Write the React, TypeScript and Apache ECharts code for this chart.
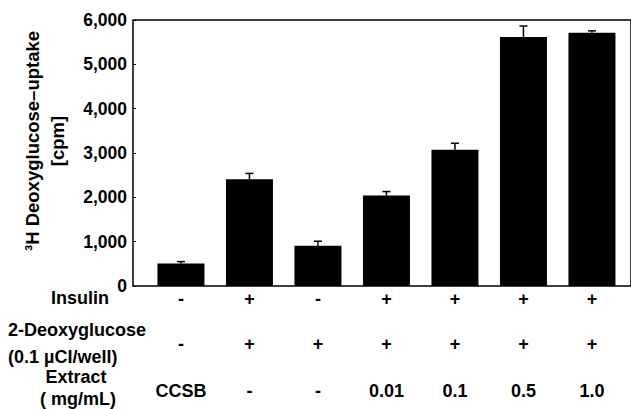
import React, { useEffect, useRef } from "react";
import * as echarts from "echarts";

// Data
const insulin = ["-", "+", "-", "+", "+", "+", "+"];
const deoxyglucose = ["-", "+", "+", "+", "+", "+", "+"];
const extract = ["CCSB", "-", "-", "0.01", "0.1", "0.5", "1.0"];
const uptake = [510, 2410, 910, 2040, 3075, 5615, 5715];
const uptakeErr = [40, 130, 100, 90, 145, 250, 40];
const rowLabelLines = ["Insulin", "2-Deoxyglucose", "(0.1 \u00b5CI/well)", "Extract", "( mg/mL)"];
const yTitle = "\u00b3H Deoxyglucose\u2013uptake\n[cpm]";

const FONT = "'Liberation Sans', Arial, sans-serif";

// placement of the row-label lines (layout only)
const rowLabelPos = [
  { x: 80, y: 298, align: "center" },
  { x: 8, y: 330, align: "left" },
  { x: 8, y: 357, align: "left" },
  { x: 76, y: 377, align: "center" },
  { x: 78, y: 399, align: "center" },
];

export default function App() {
  const ref = useRef<HTMLDivElement>(null);
  useEffect(() => {
    if (!ref.current) return;
    const chart = echarts.init(ref.current, null, { renderer: "svg" });
    const idx = uptake.map((_, i) => i);
    const textBase = { fontFamily: FONT, fontWeight: "bold", fontSize: 18, fill: "#000" };
    const richBase = { fontSize: 18, fontWeight: "bold", fontFamily: FONT, color: "#000" };
    chart.setOption({
      animation: false,
      backgroundColor: "#fff",
      grid: {
        left: 133,
        top: 20,
        right: -3,
        bottom: 123,
        show: true,
        borderColor: "#000",
        borderWidth: 1.5,
        backgroundColor: "transparent",
      },
      xAxis: {
        type: "value",
        min: -0.7,
        max: 6.57,
        axisLine: { show: false, onZero: false },
        axisTick: { show: false },
        splitLine: { show: false },
        axisLabel: {
          customValues: idx,
          margin: 0,
          formatter: (v: number) => {
            const i = Math.round(v);
            return `{a|${insulin[i]}}\n{b|${deoxyglucose[i]}}\n{c|${extract[i]}}`;
          },
          rich: {
            a: { ...richBase, lineHeight: 26 },
            b: { ...richBase, lineHeight: 64 },
            c: { ...richBase, lineHeight: 30 },
          },
        },
      },
      yAxis: {
        type: "value",
        min: 0,
        max: 6000,
        interval: 1000,
        axisLine: { show: false, onZero: false },
        axisTick: { show: true, inside: true, length: 3, lineStyle: { color: "#000", width: 1 } },
        splitLine: { show: false },
        axisLabel: {
          margin: 6,
          color: "#000",
          fontFamily: FONT,
          fontWeight: "bold",
          fontSize: 17.5,
          formatter: (v: number) => v.toLocaleString("en-US"),
        },
      },
      series: [
        {
          type: "bar",
          data: uptake.map((v, i) => [i, v]),
          barWidth: 47,
          itemStyle: { color: "#000" },
        },
        {
          type: "custom",
          data: uptake.map((v, i) => [i, v, uptakeErr[i]]),
          renderItem: (params: any, api: any) => {
            const base = api.coord([api.value(0), api.value(1)]);
            const top = api.coord([api.value(0), api.value(1) + api.value(2)]);
            const style = { stroke: "#000", lineWidth: 1.5 };
            return {
              type: "group",
              children: [
                { type: "line", shape: { x1: base[0], y1: base[1], x2: top[0], y2: top[1] }, style },
                { type: "line", shape: { x1: top[0] - 4, y1: top[1], x2: top[0] + 4, y2: top[1] }, style },
              ],
            };
          },
          z: 3,
        },
      ],
      graphic: [
        {
          type: "text",
          x: 45,
          y: 141,
          rotation: Math.PI / 2,
          style: { ...textBase, fontSize: 18.5, text: yTitle, textAlign: "center", textVerticalAlign: "middle", lineHeight: 25 },
        },
        ...rowLabelLines.map((t, i) => ({
          type: "text",
          x: rowLabelPos[i].x,
          y: rowLabelPos[i].y,
          style: { ...textBase, text: t, textAlign: rowLabelPos[i].align, textVerticalAlign: "middle", lineHeight: 18 },
        })),
      ],
    });
    return () => chart.dispose();
  }, []);
  return <div ref={ref} style={{ position: "fixed", left: 0, top: 0, width: 631, height: 409 }} />;
}
